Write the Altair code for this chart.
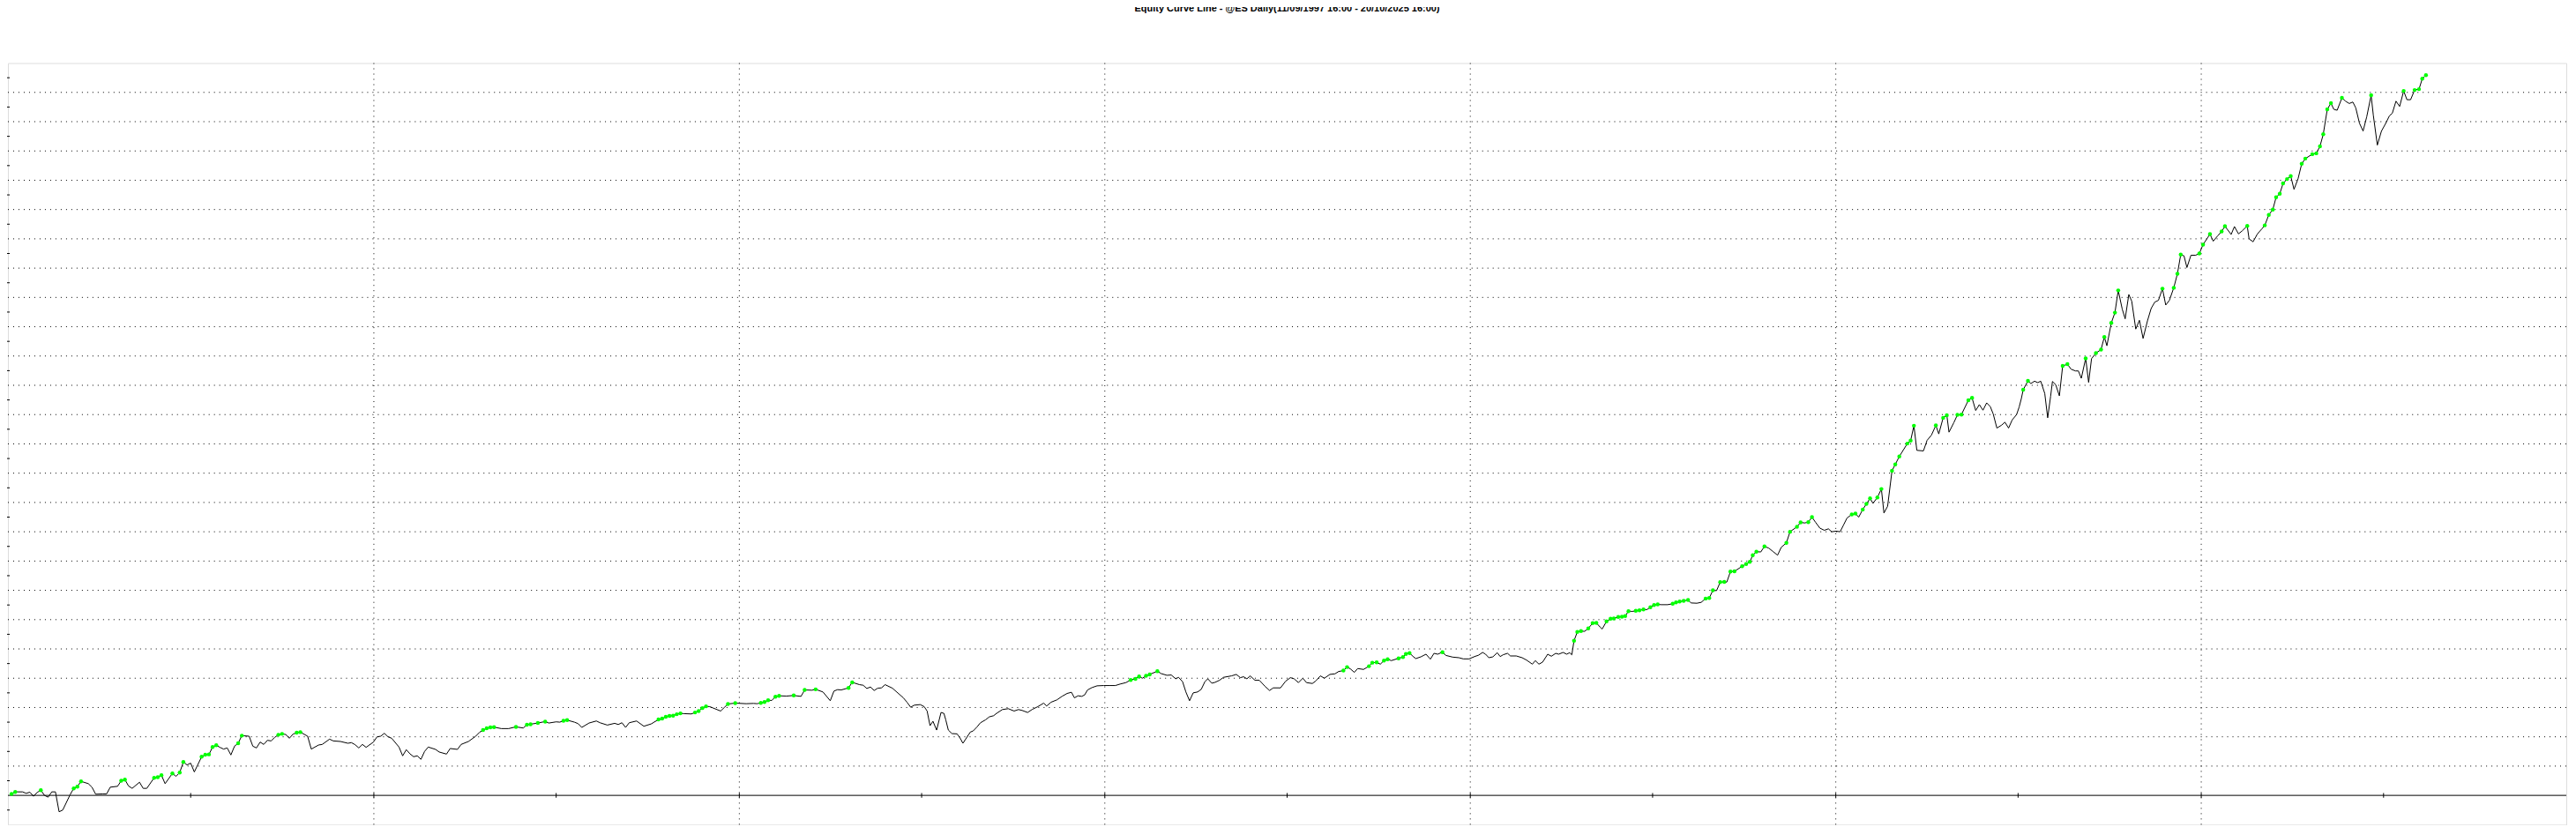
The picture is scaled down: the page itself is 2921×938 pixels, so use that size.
import altair as alt
import pandas as pd

TITLE = "Equity Curve Line - @ES Daily(11/09/1997 16:00 - 20/10/2025 16:00)"

# trade number (x) and closed-trade equity in $ thousands (y)
TRADES = [
    1, 2, 4, 5, 6, 7, 8, 9, 10, 11, 12, 13, 14, 15, 17, 18, 19, 20, 22, 23, 24, 26, 27, 28, 30,
    31, 32, 33, 34, 36, 37, 38, 40, 41, 42, 43, 45, 46, 47, 48, 49, 50, 51, 53, 54, 55, 56, 57,
    58, 59, 60, 61, 62, 63, 64, 66, 67, 68, 69, 70, 71, 72, 73, 74, 75, 76, 77, 78, 79, 80, 82,
    83, 85, 86, 88, 89, 91, 93, 94, 95, 96, 97, 98, 100, 101, 102, 103, 104, 105, 107, 108, 109,
    110, 111, 112, 113, 114, 115, 117, 118, 120, 121, 123, 124, 126, 128, 129, 130, 131, 132, 133,
    135, 137, 139, 141, 142, 143, 145, 147, 148, 150, 151, 152, 153, 155, 156, 157, 159, 161, 162,
    164, 166, 167, 168, 169, 170, 172, 173, 174, 176, 178, 179, 180, 181, 182, 183, 184, 185, 187,
    188, 189, 190, 191, 192, 193, 195, 196, 197, 199, 202, 204, 205, 206, 207, 208, 209, 210, 211,
    213, 215, 217, 218, 220, 221, 223, 225, 226, 227, 228, 230, 231, 233, 234, 235, 236, 237, 238,
    239, 240, 242, 243, 245, 246, 247, 248, 249.6, 250.7, 251.5, 252.3, 253.1, 254.1, 255.3, 256.1,
    256.6, 257.3, 258.3, 259.7, 260.5, 261.3, 262.1, 263.3, 264.1, 265.1, 266.1, 267.5, 268.5,
    269.7, 270.5, 272.1, 273.7, 275.3, 276.5, 277.5, 279.0, 280.2, 281.8, 283.4, 284.2, 285.4,
    287.0, 288.4, 289.8, 291.0, 291.8, 292.8, 293.8, 294.6, 295.4, 296.6, 298.0, 299.8, 301.4,
    303.0, 304.3, 305.9, 307.2, 308.5, 309.5, 310.4, 311.4, 312.4, 314.5, 315.5, 317.1, 318.3,
    319.5, 320.3, 321.4, 322.3, 323.3, 324.3, 325.5, 326.5, 327.5, 328.3, 329.4, 330.3, 331.5,
    332.6, 334.8, 336.1, 337.2, 338.1, 339.0, 339.9, 341.2, 342.4, 343.9, 345.2, 346.2, 348.2,
    349.6, 350.9, 351.9, 353.1, 354.3, 355.3, 356.9, 357.8, 359.1, 360.2, 361.7, 363.1, 364.1,
    365.4, 366.4, 367.3, 368.4, 369.3, 370.9, 372.4, 373.3, 374.5, 375.5, 376.5, 377.5, 378.5,
    380.5, 381.7, 382.5, 383.5, 384.4, 385.2, 386.6, 388.0, 389.2, 390.2, 391.2, 392.5, 393.4,
    395.3, 397.0, 398.2, 399.8, 401.5, 402.3, 403.5, 404.3, 405.2, 406.3, 407.5, 408.3, 409.1,
    410.3, 411.1, 412.7, 414.3, 415.5, 417.1, 417.9, 418.9, 419.9, 421.3, 422.3, 423.5, 424.3,
    425.5, 426.5, 427.3, 427.9, 428.5, 429.4, 430.4, 431.4, 432.4, 433.6, 434.6, 435.6, 436.2,
    437.4, 438.5, 439.4, 440.6, 441.6, 442.5, 443.4, 444.4, 445.4, 446.4, 447.5, 448.4, 449.4,
    450.4, 451.4, 452.4, 454.1, 455.5, 456.4, 457.4, 458.5, 459.7, 460.5, 462.1, 463.3, 464.5,
    465.5, 466.5, 467.5, 468.5, 469.6, 470.3, 471.3, 472.4, 474.5, 475.6, 476.6, 477.4, 478.4,
    479.6, 480.6, 481.8, 483.0, 484.2, 485.2, 486.6, 487.6, 489.5, 490.5, 491.6, 492.6, 493.6,
    494.6, 495.8, 497.0, 498.1, 499.0, 500.2, 501.3, 502.2, 503.2, 504.5, 505.5, 506.4, 507.5,
    508.5, 509.5, 510.3, 511.5, 512.6, 513.3, 514.3, 515.5, 516.4, 517.5, 519.7, 520.6, 521.5,
    522.3, 524.1, 525.1, 526.3, 527.5, 528.3, 529.5, 530.5, 531.1, 532.4, 533.4, 534.5, 536.4,
    537.4, 538.4, 539.4, 540.4, 541.4, 542.4, 543.2, 544.2, 545.5, 546.4, 547.4, 548.4, 549.6,
    550.3, 550.9, 551.4, 552.7, 553.5, 554.5, 555.4, 556.2, 557.3, 558.1, 558.9, 559.4, 560.3,
    561.3, 562.2, 563.5, 564.5, 565.7, 566.5, 567.3, 568.5, 569.3, 570.1, 571.3, 572.7, 573.6,
    574.3, 575.5, 576.5, 577.4, 578.5, 579.3, 580.3, 581.1, 582.2, 583.2, 584.2, 585.4, 586.4,
    587.4, 588.4, 589.5, 590.4, 591.4, 592.6, 593.6, 594.5, 595.4, 596.2, 597.3, 598.6, 599.6,
    600.6, 602.5, 603.4, 604.6, 605.7, 606.6, 608.3, 609.2, 610.3, 611.3, 612.7, 613.2, 614.3,
    615.5, 616.7, 617.5, 618.6, 619.7, 620.6, 621.6, 622.5, 623.6, 624.6, 625.5, 626.6, 627.6,
    628.6, 630.5, 631.6, 632.6, 633.5, 634.6, 635.6, 636.4, 637.3, 638.6, 639.6, 640.6, 641.6,
    642.4, 643.4, 644.4, 645.4, 646.6, 647.2, 648.3, 649.4, 650.7, 651.6, 652.4, 653.4, 654.4,
    655.5, 656.4, 657.4, 658.5, 659.7, 660.6, 661.6,
]

EQUITY_K = [
    0.5, 1.2, 1.2, 0.7, 1.1, -0.3, 1.0, 1.8, 0.0, -0.6, 1.2, 1.2, -5.6, -5.0, 0.2, 2.4, 3.0, 4.8,
    4.0, 2.8, 0.4, 0.5, 0.5, 2.8, 3.1, 5.0, 5.4, 3.2, 2.4, 4.5, 2.4, 2.4, 6.0, 6.2, 6.9, 4.0, 7.5,
    6.5, 7.8, 11.4, 10.4, 11.0, 8.0, 13.2, 13.9, 14.0, 16.5, 17.1, 16.4, 15.8, 16.2, 13.8, 16.8,
    17.8, 20.4, 20.2, 16.8, 16.2, 18.2, 17.4, 18.8, 18.6, 19.8, 20.7, 21.0, 20.8, 19.5, 20.9, 21.4,
    21.6, 20.2, 15.8, 17.2, 17.4, 19.2, 18.6, 18.4, 17.8, 18.0, 17.3, 16.2, 17.4, 16.4, 18.2, 20.0,
    20.2, 21.2, 20.0, 19.5, 16.5, 13.5, 15.6, 14.2, 13.2, 13.5, 12.3, 15.0, 16.5, 15.7, 14.8, 14.1,
    16.0, 15.7, 17.4, 18.4, 20.2, 21.5, 22.3, 22.9, 23.2, 23.3, 22.8, 22.8, 23.4, 23.0, 24.1, 24.3,
    24.7, 25.2, 24.7, 25.1, 25.0, 25.5, 25.7, 25.0, 24.5, 23.2, 24.7, 25.4, 24.8, 24.0, 24.6, 24.2,
    24.8, 23.2, 24.8, 25.4, 24.5, 23.6, 24.4, 25.9, 26.2, 26.8, 27.1, 27.2, 27.7, 28.0, 27.9, 27.8,
    28.3, 28.8, 29.8, 30.4, 30.3, 29.8, 28.8, 30.0, 31.2, 31.5, 31.3, 31.4, 31.3, 31.6, 31.9, 32.5,
    32.4, 33.7, 34.0, 33.9, 34.1, 33.8, 36.0, 35.9, 36.2, 35.3, 32.3, 35.6, 36.1, 36.0, 36.7, 38.6,
    37.8, 37.6, 36.5, 37.0, 35.8, 36.6, 36.7, 37.8, 36.6, 35.5, 33.3, 31.8, 30.1, 30.8, 31.0, 30.3,
    28.8, 23.8, 25.3, 22.3, 28.3, 28.0, 25.8, 22.3, 21.1, 21.0, 19.6, 17.8, 19.3, 21.6, 22.0, 23.3,
    24.8, 25.8, 26.8, 27.2, 28.0, 29.3, 29.6, 28.8, 29.3, 29.0, 28.3, 29.3, 30.3, 31.5, 30.5, 31.8,
    32.6, 33.8, 34.8, 35.2, 33.3, 34.0, 33.8, 34.3, 36.0, 36.8, 37.4, 37.5, 37.5, 37.5, 38.0, 38.5,
    39.4, 39.8, 40.6, 40.0, 40.8, 41.3, 42.4, 41.6, 41.0, 41.1, 39.8, 40.3, 38.8, 35.3, 32.3, 35.0,
    35.3, 36.2, 38.8, 39.8, 38.3, 38.6, 39.3, 40.3, 40.8, 41.3, 40.2, 40.5, 39.8, 40.8, 39.3, 39.3,
    37.3, 35.8, 36.7, 36.7, 39.0, 40.2, 39.8, 38.5, 40.0, 38.5, 38.2, 39.0, 40.8, 40.0, 41.3, 41.5,
    42.3, 42.6, 43.8, 43.2, 42.0, 43.3, 43.0, 44.1, 45.3, 45.4, 44.8, 46.0, 46.5, 46.0, 46.8, 47.2,
    48.3, 48.6, 47.5, 46.7, 47.3, 48.2, 46.5, 48.5, 48.2, 48.9, 47.8, 47.2, 47.0, 46.6, 46.6, 47.5,
    47.8, 48.8, 48.2, 47.0, 47.3, 48.7, 47.4, 48.0, 48.5, 47.6, 47.6, 47.0, 46.2, 44.8, 46.0, 44.8,
    45.5, 48.2, 47.5, 48.5, 48.2, 48.8, 48.2, 48.7, 48.0, 52.8, 55.8, 56.1, 56.0, 57.0, 58.8, 58.9,
    57.5, 56.8, 59.4, 60.3, 60.4, 60.9, 61.0, 61.2, 62.9, 62.8, 63.0, 63.2, 63.5, 63.4, 64.2, 65.0,
    65.2, 65.1, 65.1, 65.4, 65.9, 66.2, 66.4, 66.7, 65.7, 65.6, 65.9, 67.2, 67.4, 70.0, 69.9, 72.8,
    72.9, 72.8, 76.4, 76.5, 78.2, 79.0, 79.7, 82.0, 83.2, 83.1, 85.0, 84.4, 83.2, 82.0, 84.7, 86.2,
    90.0, 91.7, 93.2, 93.0, 93.3, 95.0, 93.2, 91.2, 90.5, 91.0, 90.0, 90.2, 90.0, 92.2, 94.7, 95.9,
    96.2, 95.0, 97.6, 99.5, 101.4, 99.7, 101.7, 104.6, 96.4, 98.7, 110.8, 113.0, 115.7, 120.1,
    121.1, 126.2, 117.8, 117.6, 121.2, 123.0, 126.3, 123.4, 128.9, 129.8, 124.0, 127.2, 129.9,
    130.0, 134.9, 135.7, 131.4, 133.4, 131.5, 134.0, 132.7, 130.2, 125.4, 126.4, 127.4, 125.4,
    128.2, 130.0, 132.6, 135.5, 138.5, 141.5, 140.6, 141.4, 140.9, 141.4, 137.2, 128.9, 136.2,
    141.3, 140.2, 136.4, 146.6, 147.2, 145.5, 144.9, 144.9, 142.4, 149.2, 141.0, 149.1, 151.0,
    152.2, 156.5, 153.5, 161.3, 164.8, 172.4, 166.0, 162.7, 171.0, 168.7, 159.2, 162.2, 156.0,
    162.0, 166.2, 168.4, 169.0, 173.0, 167.4, 169.0, 173.3, 178.1, 184.6, 184.2, 180.2, 184.4,
    184.4, 185.0, 188.0, 191.6, 189.2, 191.0, 192.5, 194.3, 191.5, 194.2, 191.7, 192.7, 194.4,
    190.0, 189.0, 191.7, 193.4, 194.6, 198.2, 200.0, 204.2, 205.4, 208.9, 210.4, 211.4, 206.9,
    210.5, 215.6, 217.4, 218.9, 219.2, 221.6, 225.7, 234.2, 236.3, 234.2, 233.9, 238.1, 237.0,
    236.2, 236.7, 234.7, 229.5, 226.8, 231.7, 239.0, 232.2, 222.0, 226.7, 229.7, 232.0, 232.9,
    237.0, 235.2, 240.5, 237.5, 237.5, 240.8, 241.1, 244.7, 245.9,
]

X_GRID = [100, 200, 300, 400, 500, 600]
X_LABELS = [0, 100, 200, 300, 400, 500, 600, 700]
X_MINOR = [50, 150, 250, 350, 450, 550, 650]
X_MAJOR_TICKS = [100, 200, 300, 400, 500, 600]
Y_GRID = [v * 10000 for v in range(1, 25)]
Y_LABELS = [v * 10000 for v in range(0, 25)]
Y_MINOR = [v * 10000 + 5000 for v in range(-1, 25)]
X_DOMAIN = [0, 700]
Y_DOMAIN = [-10000, 250000]

df = pd.DataFrame({"trade": TRADES, "equity": [v * 1000 for v in EQUITY_K]})
prev_max = df["equity"].cummax().shift(1, fill_value=float("-inf"))
df["new_high"] = df["equity"] > prev_max
highs = df[df["new_high"]]

xs = alt.Scale(domain=X_DOMAIN, nice=False, zero=False)
ys = alt.Scale(domain=Y_DOMAIN, nice=False, zero=False)

x_axis = alt.Axis(values=X_LABELS, grid=False, ticks=False, domain=False,
                  labelFontSize=11, labelColor="#1a3f8f", title=None)
y_axis = alt.Axis(values=Y_LABELS, grid=False, ticks=False, domain=False, labelOverlap=False,
                  labelFontSize=11, labelColor="#1a3f8f", title=None)

# vertical dotted gridlines
vgrid = alt.Chart(pd.DataFrame({"t": X_GRID})).mark_rule(
    color="black", strokeWidth=1, strokeDash=[1, 5], xOffset=0.5
).encode(x=alt.X("t:Q", scale=xs, axis=x_axis))

# horizontal dotted gridlines
hgrid = alt.Chart(pd.DataFrame({"v": Y_GRID})).mark_rule(
    color="black", strokeWidth=1, strokeDash=[1, 5]
).encode(y=alt.Y("v:Q", scale=ys, axis=y_axis))

base = alt.Chart(df)
line = base.mark_line(color="black", strokeWidth=1, interpolate="linear").encode(
    x=alt.X("trade:Q", scale=xs, axis=x_axis),
    y=alt.Y("equity:Q", scale=ys, axis=y_axis),
)

zero = alt.Chart(pd.DataFrame({"y": [0]})).mark_rule(
    color="black", strokeWidth=1
).encode(y=alt.Y("y:Q", scale=ys))

zero_ticks = alt.Chart(pd.DataFrame({"t": X_MINOR, "lo": [-800] * len(X_MINOR),
                                     "hi": [800] * len(X_MINOR)})).mark_rule(
    color="black", strokeWidth=1
).encode(x=alt.X("t:Q", scale=xs), y=alt.Y("lo:Q", scale=ys), y2="hi:Q")

zero_ticks_major = alt.Chart(pd.DataFrame({"t": X_MAJOR_TICKS, "lo": [-800] * len(X_MAJOR_TICKS),
                                           "hi": [800] * len(X_MAJOR_TICKS)})).mark_rule(
    color="black", strokeWidth=1, xOffset=0.5
).encode(x=alt.X("t:Q", scale=xs), y=alt.Y("lo:Q", scale=ys), y2="hi:Q")

y_ticks = alt.Chart(pd.DataFrame({"y": Y_MINOR, "a": [-0.6] * len(Y_MINOR),
                                  "b": [0.5] * len(Y_MINOR)})).mark_rule(
    color="black", strokeWidth=1
).encode(y=alt.Y("y:Q", scale=ys), x=alt.X("a:Q", scale=xs), x2="b:Q")

dots = alt.Chart(highs).mark_circle(color="#00ff00", size=20, opacity=1).encode(
    x=alt.X("trade:Q", scale=xs),
    y=alt.Y("equity:Q", scale=ys),
)

chart = alt.layer(vgrid, hgrid, line, zero, zero_ticks, zero_ticks_major, y_ticks, dots).properties(
    width=2905,
    height=865,
    autosize=alt.AutoSizeParams(type="none"),
    padding={"left": 1, "top": 63, "right": 3, "bottom": 0},
    title=alt.TitleParams(TITLE, fontSize=11, font="Liberation Sans", fontWeight="bold",
                          color="black", anchor="middle", offset=56),
).configure_view(stroke="black", strokeWidth=1).configure(background="white")

chart.save("out.html", embed_options={"renderer": "svg", "actions": False})
